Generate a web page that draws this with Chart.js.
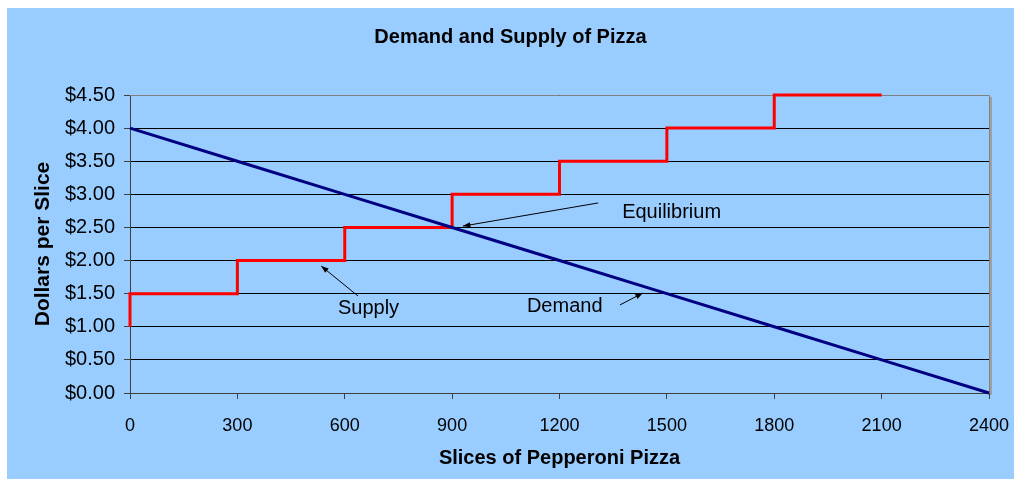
<!DOCTYPE html>
<html lang="en">
<head>
  <meta charset="UTF-8">
  <title>Demand and Supply of Pizza</title>
  <script src="https://cdn.jsdelivr.net/npm/chart.js"></script>
  <style>
    body { margin: 0; background: #fff; }
    #wrap {
      position: absolute;
      left: 7px;
      top: 8px;
      width: 1007px;
      height: 471px;
      background: #99ccff;
    }
  </style>
</head>
<body>
  <div id="wrap"><canvas id="pizzaChart"></canvas></div>
  <script>
    // demand schedule
    const demandQty = [0, 300, 600, 900, 1200, 1500, 1800, 2100, 2400];
    const demandPrice = [4.0, 3.5, 3.0, 2.5, 2.0, 1.5, 1.0, 0.5, 0.0];
    // supply schedule (drawn as a staircase)
    const supplyQty = [0, 300, 600, 900, 1200, 1500, 1800, 2100];
    const supplyPrice = [1.0, 1.5, 2.0, 2.5, 3.0, 3.5, 4.0, 4.5];

    // text labels with arrows, in data units (slices, dollars)
    const noteText = ['Equilibrium', 'Supply', 'Demand'];
    const noteAt = [[1375, 2.73], [581, 1.27], [1109, 1.30]];
    const arrowFrom = [[1308, 2.87], [637, 1.465], [1369, 1.33]];
    const arrowTo = [[930, 2.52], [534, 1.918], [1433, 1.51]];

    const toPoints = (xs, ys) => xs.map((x, i) => ({ x: x, y: ys[i] }));

    const plotFrame = {
      id: 'plotFrame',
      beforeDatasetsDraw(chart) {
        const { ctx, chartArea: a } = chart;
        ctx.save();
        ctx.fillStyle = '#a0a0a0';
        ctx.fillRect(a.right + 1, a.top + 2, 2, a.bottom - a.top);
        ctx.strokeStyle = '#808080';
        ctx.lineWidth = 1;
        ctx.beginPath();
        ctx.moveTo(a.left, a.top + 0.5);
        ctx.lineTo(a.right + 0.5, a.top + 0.5);
        ctx.lineTo(a.right + 0.5, a.bottom);
        ctx.stroke();
        ctx.restore();
      }
    };

    const notes = {
      id: 'notes',
      afterDatasetsDraw(chart) {
        const { ctx } = chart;
        const xs = chart.scales.x, ys = chart.scales.y;
        ctx.save();
        ctx.fillStyle = '#000';
        ctx.strokeStyle = '#000';
        ctx.font = '20px "Liberation Sans", Arial, sans-serif';
        ctx.textBaseline = 'middle';
        ctx.textAlign = 'left';
        noteText.forEach((t, i) => {
          ctx.fillText(t, xs.getPixelForValue(noteAt[i][0]), ys.getPixelForValue(noteAt[i][1]));
          const x1 = xs.getPixelForValue(arrowFrom[i][0]), y1 = ys.getPixelForValue(arrowFrom[i][1]);
          const x2 = xs.getPixelForValue(arrowTo[i][0]), y2 = ys.getPixelForValue(arrowTo[i][1]);
          const ang = Math.atan2(y2 - y1, x2 - x1);
          ctx.lineWidth = 1;
          ctx.beginPath();
          ctx.moveTo(x1, y1);
          ctx.lineTo(x2, y2);
          ctx.stroke();
          ctx.beginPath();
          ctx.moveTo(x2, y2);
          ctx.lineTo(x2 - 8 * Math.cos(ang - 0.35), y2 - 8 * Math.sin(ang - 0.35));
          ctx.lineTo(x2 - 8 * Math.cos(ang + 0.35), y2 - 8 * Math.sin(ang + 0.35));
          ctx.closePath();
          ctx.fill();
        });
        ctx.restore();
      }
    };

    Chart.defaults.font.family = '"Liberation Sans", Arial, sans-serif';
    Chart.defaults.color = '#000';

    new Chart(document.getElementById('pizzaChart'), {
      type: 'line',
      data: {
        datasets: [
          {
            label: 'Demand',
            data: toPoints(demandQty, demandPrice),
            borderColor: '#000080',
            borderWidth: 3,
            pointRadius: 0,
            clip: false
          },
          {
            label: 'Supply',
            data: toPoints(supplyQty, supplyPrice),
            borderColor: '#ff0000',
            borderWidth: 3,
            pointRadius: 0,
            stepped: 'after',
            clip: false
          }
        ]
      },
      options: {
        responsive: true,
        maintainAspectRatio: false,
        animation: false,
        layout: { padding: 0 },
        plugins: {
          legend: { display: false },
          tooltip: { enabled: false },
          title: {
            display: true,
            text: 'Demand and Supply of Pizza',
            font: { size: 20, weight: 'bold' },
            padding: { top: 17, bottom: 46 }
          }
        },
        scales: {
          x: {
            type: 'linear',
            min: 0,
            max: 2400,
            ticks: {
              stepSize: 300,
              font: { size: 18 },
              padding: 16,
              maxRotation: 0,
              callback: v => String(v)
            },
            grid: { drawOnChartArea: false, tickLength: 6, tickColor: '#404040' },
            border: { color: '#404040' },
            title: {
              display: true,
              text: 'Slices of Pepperoni Pizza',
              font: { size: 20, weight: 'bold' },
              padding: { top: 4, bottom: 9 }
            },
            afterFit(s) {
              s.height = 86;
              s.paddingRight = 25;
            }
          },
          y: {
            min: 0,
            max: 4.5,
            ticks: {
              stepSize: 0.5,
              font: { size: 20 },
              padding: 9,
              callback: v => '$' + v.toFixed(2)
            },
            grid: { color: '#000', tickLength: 6, tickColor: '#404040' },
            border: { color: '#404040' },
            title: {
              display: true,
              text: 'Dollars per Slice',
              font: { size: 21, weight: 'bold' },
              padding: { top: 24, bottom: 4 }
            },
            afterFit(s) { s.width = 123; }
          }
        }
      },
      plugins: [plotFrame, notes]
    });
  </script>
</body>
</html>
